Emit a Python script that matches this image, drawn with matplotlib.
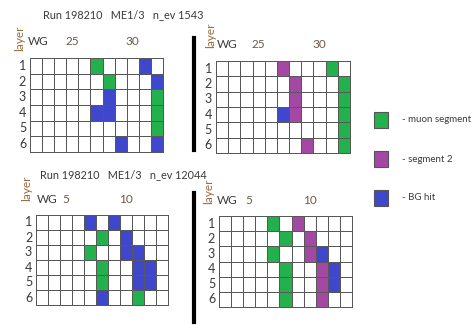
import matplotlib
matplotlib.use("Agg")
import matplotlib.pyplot as plt
import numpy as np
from matplotlib.colors import ListedColormap, BoundaryNorm
from matplotlib.lines import Line2D
from matplotlib.patches import Rectangle

plt.rcParams["font.family"] = ["Lato", "DejaVu Sans"]

# Hit maps: one string per layer (1..6), one character per wire group.
# 0 = no hit, 1 = muon segment, 2 = segment 2, 3 = BG hit
ev1543_a = ["00000100030",
            "00000010003",
            "00000030001",
            "00000330001",
            "00000000001",
            "00000003003"]
ev1543_b = ["00000200010",
            "00000020001",
            "00000020001",
            "00000320001",
            "00000000001",
            "00000002001"]
ev12044_a = ["00003030000",
             "00000103000",
             "00001003300",
             "00000100330",
             "00000100330",
             "00000300100"]
ev12044_b = ["00001020000",
             "00000102000",
             "00001002300",
             "00000100230",
             "00000100230",
             "00000100200"]

run_number = 198210
chamber = "ME1/3"
events = [1543, 12044]
first_wg = [22, 3]            # wire group of the first column, per event
labeled_wg = [[25, 30], [5, 10]]
layers = [1, 2, 3, 4, 5, 6]

legend_labels = ["- muon segment", "- segment 2", "- BG hit"]
hit_colors = ["#22b14c", "#a349a4", "#3f48cc"]

W, H = 475, 325
fig = plt.figure(figsize=(W / 100, H / 100), dpi=100)

cmap = ListedColormap(["white"] + hit_colors)
norm = BoundaryNorm([-0.5, 0.5, 1.5, 2.5, 3.5], cmap.N)

text_col = "#3a3a3a"
layer_col = "#9a6a3c"


def fx(px):
    return px / W


def fy(py):
    return 1 - py / H


def panel(rows, box, wg0, wg_marks, wg_x, layer_xy):
    x0, y0, x1, y1 = box
    ax = fig.add_axes([fx(x0), fy(y1), fx(x1 - x0), (y1 - y0) / H])
    grid = np.array([[int(c) for c in r] for r in rows])
    nrow, ncol = grid.shape
    ax.pcolormesh(np.arange(ncol + 1), np.arange(nrow + 1), grid,
                  cmap=cmap, norm=norm, edgecolors="#585858",
                  linewidth=0.7, clip_on=False)
    ax.set_xlim(0, ncol)
    ax.set_ylim(nrow, 0)
    ax.axis("off")
    for i, lay in enumerate(layers):
        ax.text(-0.62, i + 0.5, str(lay), ha="center", va="center",
                fontsize=9, color=text_col)
    ax.text(wg_x, -1.05, "WG", ha="center", va="center",
            fontsize=8.5, color=text_col)
    for wg in wg_marks:
        ax.text(wg - wg0 + 0.5, -1.05, str(wg), ha="center", va="center",
                fontsize=8.5, color="#6a5a48")
    fig.text(fx(layer_xy[0]), fy(layer_xy[1]), "layer", rotation=90,
             ha="center", va="center", fontsize=8.5, color=layer_col)


# event 1543
fig.text(fx(43), fy(15), f"Run {run_number}   {chamber}   n_ev {events[0]}",
         ha="left", va="center", fontsize=7.8, color=text_col)
panel(ev1543_a, (30, 58, 163, 152), first_wg[0], labeled_wg[0], 0.7, (20, 38))
panel(ev1543_b, (216, 61, 350, 153), first_wg[0], labeled_wg[0], 0.95, (211, 35))

# event 12044
fig.text(fx(40), fy(175), f"Run {run_number}   {chamber}   n_ev {events[1]}",
         ha="left", va="center", fontsize=7.8, color=text_col)
panel(ev12044_a, (36, 215, 168, 305), first_wg[1], labeled_wg[1], 0.9, (27, 188))
panel(ev12044_b, (219, 216, 352, 307), first_wg[1], labeled_wg[1], 0.7, (209, 191))

# separators between the two views of each event
fig.add_artist(Line2D([fx(194), fx(194)], [fy(38), fy(150)],
                      color="black", linewidth=3))
fig.add_artist(Line2D([fx(194), fx(194)], [fy(193), fy(322)],
                      color="black", linewidth=3))

# legend
for i, (lab, col) in enumerate(zip(legend_labels, hit_colors)):
    top = 112 + i * 39
    fig.add_artist(Rectangle((fx(374), fy(top + 16)), fx(14), 16 / H,
                             facecolor=col, edgecolor="#555555",
                             linewidth=0.8))
    fig.text(fx(402), fy(top + 8), lab, ha="left", va="center",
             fontsize=7, color=text_col)

fig.savefig("out.png", dpi=100, facecolor="white")
